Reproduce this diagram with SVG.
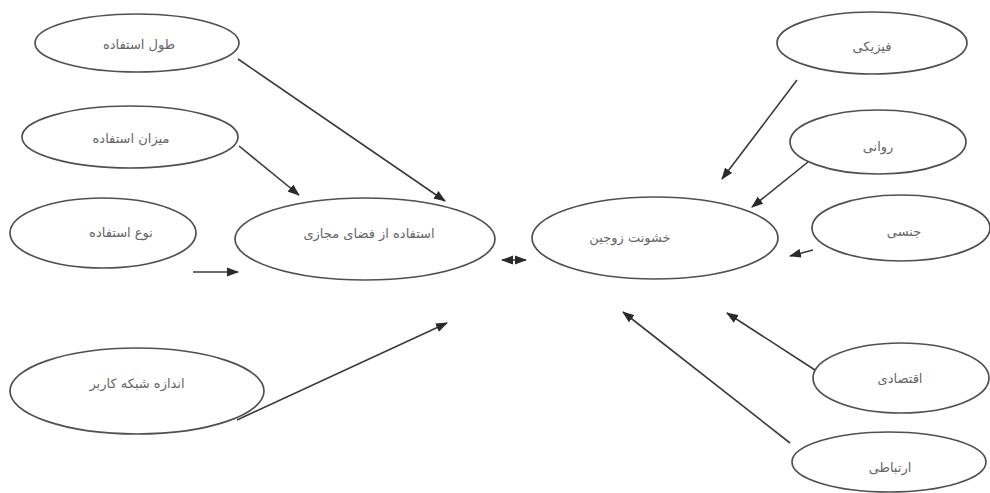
<svg xmlns="http://www.w3.org/2000/svg" width="990" height="493" viewBox="0 0 990 493">
<style>
.n ellipse{fill:none;stroke:#505050;stroke-width:1.7}
.n text{font-family:"DejaVu Sans",sans-serif;font-size:13px;fill:#666;text-anchor:middle;dominant-baseline:central}
.c line{stroke:#3a3a3a;stroke-width:1.6;fill:none}
</style>
<defs>
<marker id="ah" markerUnits="userSpaceOnUse" markerWidth="12" markerHeight="10" refX="11" refY="4.5" orient="auto-start-reverse" viewBox="0 0 12 9">
<path d="M0,0 L12,4.5 L0,9 z" fill="#2a2a2a"/>
</marker>
</defs>
<rect width="990" height="493" fill="#ffffff"/>
<g id="n-tool" class="n"><ellipse cx="137" cy="43" rx="102" ry="29"/><text x="139" y="44">طول استفاده</text></g>
<g id="n-mizan" class="n"><ellipse cx="130" cy="137" rx="108" ry="31"/><text x="131" y="138">میزان استفاده</text></g>
<g id="n-now" class="n"><ellipse cx="103" cy="233" rx="93" ry="35"/><text x="121" y="232">نوع استفاده</text></g>
<g id="n-andaze" class="n"><ellipse cx="137" cy="391" rx="127" ry="43"/><text x="137" y="383">اندازه شبکه کاربر</text></g>
<g id="n-fazay" class="n"><ellipse cx="365" cy="239" rx="130" ry="41"/><text x="369" y="233">استفاده از فضای مجازی</text></g>
<g id="n-khoshunat" class="n"><ellipse cx="655" cy="238" rx="123" ry="41"/><text x="630" y="237">خشونت زوجین</text></g>
<g id="n-fiziki" class="n"><ellipse cx="872" cy="43" rx="95" ry="31"/><text x="872" y="46">فیزیکی</text></g>
<g id="n-ravani" class="n"><ellipse cx="878" cy="142" rx="88" ry="32"/><text x="878" y="146">روانی</text></g>
<g id="n-jensi" class="n"><ellipse cx="901" cy="228" rx="89" ry="33"/><text x="904" y="231">جنسی</text></g>
<g id="n-eghtesadi" class="n"><ellipse cx="901" cy="378" rx="88" ry="35"/><text x="900" y="378">اقتصادی</text></g>
<g id="n-ertebati" class="n"><ellipse cx="889" cy="462" rx="97" ry="30"/><text x="890" y="467">ارتباطی</text></g>
<g id="connectors" class="c">
<line x1="238" y1="59" x2="445" y2="201" marker-end="url(#ah)"/>
<line x1="239" y1="146" x2="299" y2="195" marker-end="url(#ah)"/>
<line x1="193" y1="272" x2="238" y2="272" marker-end="url(#ah)"/>
<line x1="237" y1="420" x2="447" y2="323" marker-end="url(#ah)"/>
<line x1="502" y1="260" x2="526" y2="260" marker-start="url(#ah)" marker-end="url(#ah)"/>
<line x1="797" y1="80" x2="722" y2="179" marker-end="url(#ah)"/>
<line x1="808" y1="162" x2="752" y2="207" marker-end="url(#ah)"/>
<line x1="813" y1="250" x2="790" y2="256" marker-end="url(#ah)"/>
<line x1="815" y1="370" x2="727" y2="313" marker-end="url(#ah)"/>
<line x1="790" y1="443" x2="623" y2="312" marker-end="url(#ah)"/>
</g>
</svg>
